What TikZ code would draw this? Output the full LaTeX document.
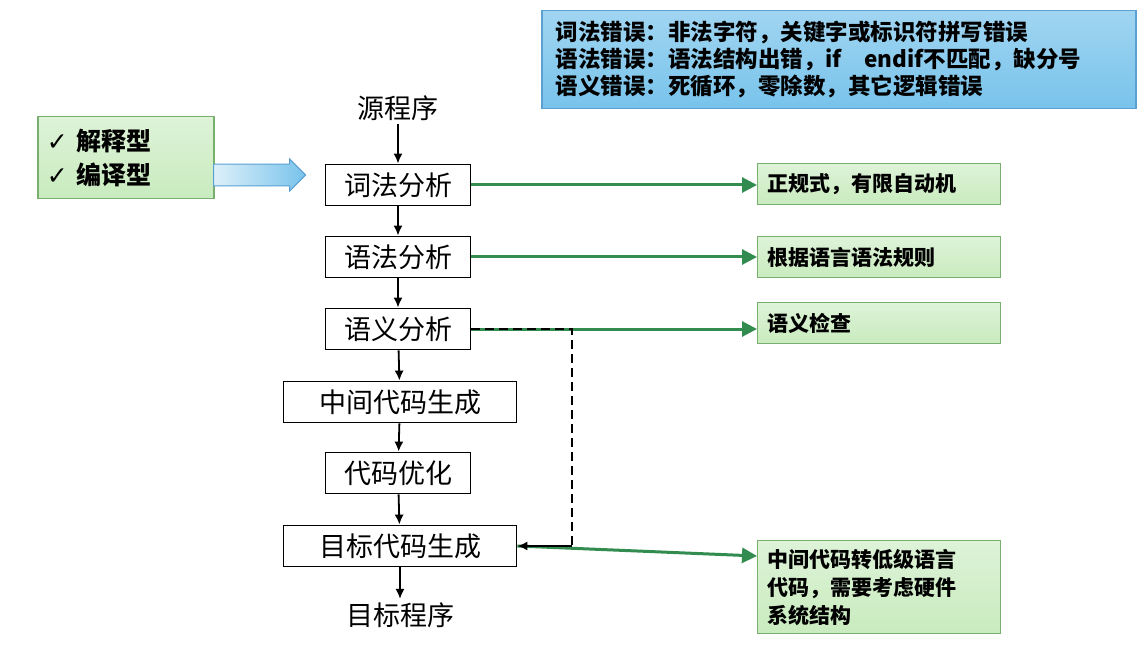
\documentclass[tikz,border=0pt]{standalone}
\usepackage{fontspec}
\newfontfamily\cjk{Noto Sans CJK SC}
\newfontfamily\sym{DejaVu Sans}
\usetikzlibrary{arrows.meta,shapes.arrows}
\definecolor{gfill}{RGB}{200,235,190}
\definecolor{gdraw}{RGB}{120,175,110}
\definecolor{garrow}{RGB}{50,140,80}
\definecolor{bfill}{RGB}{120,195,235}
\definecolor{bdraw}{RGB}{90,160,210}
\tikzset{
 flow/.style={draw,line width=1.8pt,fill=white,minimum height=41pt,font=\cjk\fontsize{27}{29}\selectfont,inner sep=0pt},
 note/.style={draw=gdraw,line width=1.2pt,top color=gfill!60,bottom color=gfill,anchor=north west,font=\cjk\bfseries\fontsize{21}{28}\selectfont,align=left,inner xsep=10pt,text width=223pt},
 garr/.style={draw=garrow,line width=3pt,-{Triangle[length=15pt,width=15pt]}},
 darr/.style={-{Latex[length=10pt,width=9pt]},line width=1.8pt}
}
\begin{document}
\begin{tikzpicture}[x=1pt,y=-1pt]
\useasboundingbox[fill=white](0,0) rectangle (1148,652);
% top-right box
\node[draw=bdraw,line width=1.5pt,top color=bfill!70,bottom color=bfill,minimum width=592pt,minimum height=98pt,anchor=north west,align=left,font=\cjk\bfseries\fontsize{22.5}{27}\selectfont,inner xsep=14pt,text width=566pt] (err) at (541,10)
 {词法错误：非法字符，关键字或标识符拼写错误\\语法错误：语法结构出错，if\quad endif不匹配，缺分号\\语义错误：死循环，零除数，其它逻辑错误};
% left box
\node[draw=gdraw,line width=1.5pt,top color=gfill!60,bottom color=gfill,minimum width=176pt,minimum height=82pt,anchor=north west,align=left,font=\cjk\bfseries\fontsize{25}{34}\selectfont,text width=158pt] (kind) at (37,116)
 {{\sym ✓} 解释型\\{\sym ✓} 编译型};
% flow
\node[font=\cjk\fontsize{27}{29}\selectfont] (src) at (398,108) {源程序};
\node[flow,minimum width=145pt] (a) at (398,185) {词法分析};
\node[flow,minimum width=145pt] (b) at (398,257) {语法分析};
\node[flow,minimum width=145pt] (c) at (398,329) {语义分析};
\node[flow,minimum width=233pt] (d) at (400,402) {中间代码生成};
\node[flow,minimum width=145pt] (e) at (398,473) {代码优化};
\node[flow,minimum width=233pt] (f) at (400,546) {目标代码生成};
\node[font=\cjk\fontsize{27}{29}\selectfont] (dst) at (400,615) {目标程序};
\foreach \p/\q in {src/a,a/b,b/c,c/d,d/e,e/f,f/dst} \draw[darr] (\p) -- (\q);
% blue arrow
\node[single arrow,draw=bdraw,line width=1.2pt,left color=bfill!25,right color=bfill,minimum height=92pt,minimum width=32pt,single arrow head extend=5pt,inner xsep=0pt,inner ysep=10pt,anchor=west] (ba) at (213,175) {};
% right notes
\node[note,minimum height=41pt] (n1) at (757,163) {正规式，有限自动机};
\node[note,minimum height=41pt] (n2) at (757,236) {根据语言语法规则};
\node[note,minimum height=41pt] (n3) at (757,302) {语义检查};
\node[note,minimum height=93pt] (n4) at (757,540) {中间代码转低级语言\\代码，需要考虑硬件\\系统结构};
\draw[garr] (a.east) -- (a.east -| n1.west);
\draw[garr] (b.east) -- (b.east -| n2.west);
\draw[garr] (c.east) -- (c.east -| n3.west);
\draw[garr] (f.east) -- (n4.west |- 0,556);
% dashed feedback
\coordinate (k1) at (572,329);
\coordinate (k2) at (572,546);
\draw[line width=1.6pt,dash pattern=on 9pt off 5pt] (c.east) -- (k1) -- (k2);
\draw[darr] (k2) -- (f.east);
\end{tikzpicture}
\end{document}
